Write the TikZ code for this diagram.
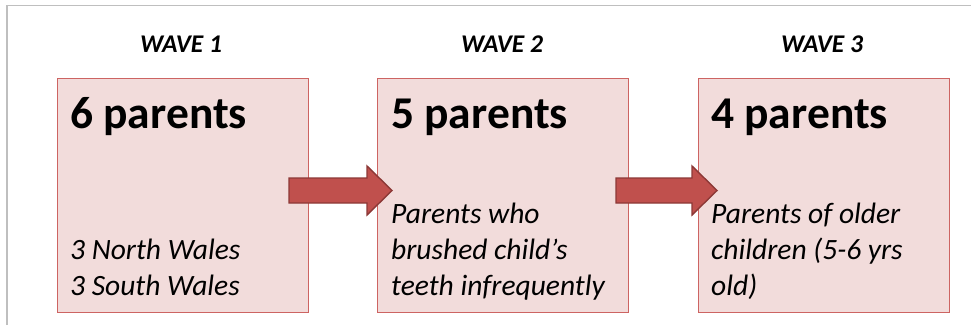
\documentclass[tikz,border=0pt]{standalone}
\usepackage{fontspec}
\setmainfont{Carlito}
\begin{document}
\begin{tikzpicture}[x=1pt,y=-1pt,
  wavebox/.style={draw=boxline,fill=boxfill,line width=1.1pt,rectangle,minimum width=251pt,minimum height=234pt,anchor=north west,inner sep=0pt},
  wavetitle/.style={font=\fontsize{25.5}{30}\selectfont\bfseries\itshape,anchor=base},
  count/.style={font=\fontsize{45.5}{50}\selectfont\bfseries,anchor=base west,inner sep=0pt},
  note/.style={font=\fontsize{29.5}{36}\selectfont\itshape,anchor=base west,inner sep=0pt},
  blockarrow/.style={fill=arrowfill,draw=arrowline,line width=1.4pt,line join=miter}]
\definecolor{boxfill}{HTML}{F2DCDB}
\definecolor{boxline}{HTML}{CD6462}
\definecolor{arrowfill}{HTML}{C0504D}
\definecolor{arrowline}{HTML}{8C3836}
\definecolor{frameline}{HTML}{BFBFBF}
\useasboundingbox (0,0) rectangle (971,325);

% open frame: top and left edges only
\draw[frameline,line width=1.5pt] (7,325) -- (7,5.5) -- (971,5.5);

% wave titles
\node[wavetitle] (t1) at (181,52) {WAVE 1};
\node[wavetitle] (t2) at (502,52) {WAVE 2};
\node[wavetitle] (t3) at (822,52) {WAVE 3};

% boxes
\node[wavebox] (b1) at (57,78) {};
\node[wavebox] (b2) at (377,78) {};
\node[wavebox] (b3) at (698,78) {};

% block arrows between boxes
\draw[blockarrow] (289,178) -- (367,178) -- (367,166) -- (392,190.5) -- (367,215) -- (367,203) -- (289,203) -- cycle;
\draw[blockarrow] (616,178) -- (692,178) -- (692,166) -- (717,190.5) -- (692,215) -- (692,203) -- (616,203) -- cycle;

% box headings
\node[count] (c1) at (70,128) {6 parents};
\node[count] (c2) at (391,128) {5 parents};
\node[count] (c3) at (711,128) {4 parents};

% box notes, one node per line
\node[note] (n1a) at (70,259) {3 North Wales};
\node[note] (n1b) at (70,295) {3 South Wales};

\node[note] (n2a) at (391,223) {Parents who};
\node[note] (n2b) at (391,259) {brushed child’s};
\node[note] (n2c) at (391,295) {teeth infrequently};

\node[note] (n3a) at (711,223) {Parents of older};
\node[note] (n3b) at (711,259) {children (5-6 yrs};
\node[note] (n3c) at (711,295) {old)};
\end{tikzpicture}
\end{document}
